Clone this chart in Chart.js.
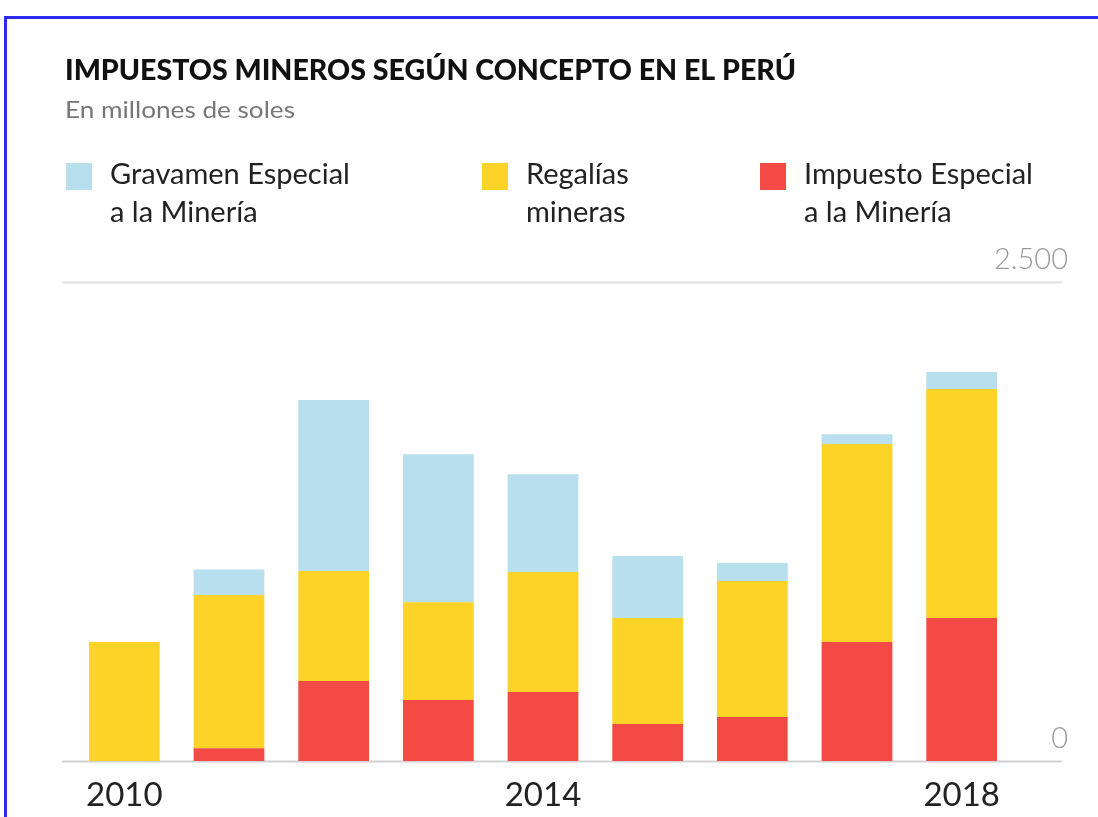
<!DOCTYPE html>
<html>
<head>
<meta charset="utf-8">
<script src="https://cdn.jsdelivr.net/npm/chart.js@4/dist/chart.umd.min.js"></script>
<style>
  html, body { margin: 0; padding: 0; background: #fff; }
  #wrap { position: relative; width: 1098px; height: 817px; overflow: hidden; }
  #frame {
    position: absolute; left: 4px; top: 16px; width: 1200px; height: 900px;
    border-top: 3px solid #2b2bef; border-left: 3px solid #2b2bef;
    pointer-events: none;
  }
</style>
</head>
<body>
<div id="wrap">
  <canvas id="impuestos" width="1098" height="817"></canvas>
  <div id="frame"></div>
</div>
<script>
  var years = ['2010', '2011', '2012', '2013', '2014', '2015', '2016', '2017', '2018'];
  var shownYears = ['2010', '2014', '2018'];

  // millones de soles
  var impuestoEspecial = [0, 66, 418, 318, 360, 193, 230, 621, 746];
  var regalias = [621, 800, 574, 511, 626, 553, 710, 1033, 1195];
  var gravamenEspecial = [0, 134, 892, 772, 511, 324, 94, 52, 89];

  var yTicks = [0, 2500];
  var yTickLabels = ['0', '2.500'];

  var titleText = 'IMPUESTOS MINEROS SEGÚN CONCEPTO EN EL PERÚ';
  var subtitleText = 'En millones de soles';

  // text drawn squeezed to the width it has in the print version
  function fitText(ctx, text, x, y, width) {
    var w = ctx.measureText(text).width;
    ctx.save();
    ctx.translate(x, y);
    ctx.scale(width / w, 1);
    ctx.fillText(text, 0, 0);
    ctx.restore();
  }

  var headerPlugin = {
    id: 'header',
    beforeDraw: function (chart) {
      var ctx = chart.ctx;
      ctx.save();
      ctx.textBaseline = 'alphabetic';
      ctx.textAlign = 'left';

      ctx.fillStyle = '#111';
      ctx.font = '900 28px Lato';
      fitText(ctx, titleText, 65, 80, 731);

      ctx.fillStyle = '#777';
      ctx.font = '400 24px Lato';
      fitText(ctx, subtitleText, 65, 118, 230);

      // legend, top series first, labels on two lines
      var xs = [66, 482, 760];
      var items = chart.data.datasets.slice().reverse();
      ctx.font = '400 29px Lato';
      for (var i = 0; i < items.length; i++) {
        var ds = items[i];
        ctx.fillStyle = ds.backgroundColor;
        ctx.fillRect(xs[i], 163, 26, 27);
        ctx.fillStyle = '#222';
        for (var j = 0; j < ds.legendLines.length; j++) {
          ctx.fillText(ds.legendLines[j], xs[i] + 44, 184 + j * 38);
        }
      }
      ctx.restore();
    },
    beforeDatasetsDraw: function (chart) {
      var ctx = chart.ctx;
      var area = chart.chartArea;
      var yScale = chart.scales.y;
      ctx.save();
      ctx.lineWidth = 2;
      ctx.font = '300 29px Lato';
      ctx.textAlign = 'right';
      ctx.textBaseline = 'alphabetic';
      for (var i = 0; i < yTicks.length; i++) {
        var py = Math.round(yScale.getPixelForValue(yTicks[i])) + 0.5;
        ctx.strokeStyle = i === 0 ? '#d2d2d2' : '#e2e2e2';
        ctx.beginPath();
        ctx.moveTo(area.left - 10, py);
        ctx.lineTo(area.right + 48, py);
        ctx.stroke();
        ctx.fillStyle = '#9a9a9a';
        ctx.fillText(yTickLabels[i], area.right + 54, py - 14);
      }
      ctx.restore();
    }
  };

  var ctx = document.getElementById('impuestos');

  new Chart(ctx, {
    type: 'bar',
    data: {
      labels: years,
      datasets: [
        {
          label: 'Impuesto Especial a la Minería',
          legendLines: ['Impuesto Especial', 'a la Minería'],
          data: impuestoEspecial,
          backgroundColor: '#f44a46',
        },
        {
          label: 'Regalías mineras',
          legendLines: ['Regalías', 'mineras'],
          data: regalias,
          backgroundColor: '#fdd327',
        },
        {
          label: 'Gravamen Especial a la Minería',
          legendLines: ['Gravamen Especial', 'a la Minería'],
          data: gravamenEspecial,
          backgroundColor: '#b7dfee',
        },
      ]
    },
    plugins: [headerPlugin],
    options: {
      responsive: false,
      animation: false,
      layout: {
        padding: { left: 72, right: 84, top: 282, bottom: 0 }
      },
      datasets: {
        bar: {
          categoryPercentage: 1,
          barPercentage: 0.676,
          borderWidth: 0,
        }
      },
      plugins: {
        legend: { display: false },
        title: { display: false },
        tooltip: { enabled: false },
      },
      scales: {
        x: {
          stacked: true,
          grid: { display: false, drawTicks: false },
          border: { display: false },
          ticks: {
            autoSkip: false,
            maxRotation: 0,
            padding: 15,
            color: '#222',
            font: { family: 'Lato', size: 33 },
            callback: function (value, index) {
              var y = years[index];
              return shownYears.indexOf(y) >= 0 ? y : '';
            }
          },
          afterFit: function (scale) { scale.height = 56; }
        },
        y: {
          display: false,
          stacked: true,
          min: 0,
          max: 2500,
        }
      }
    }
  });
</script>
</body>
</html>
